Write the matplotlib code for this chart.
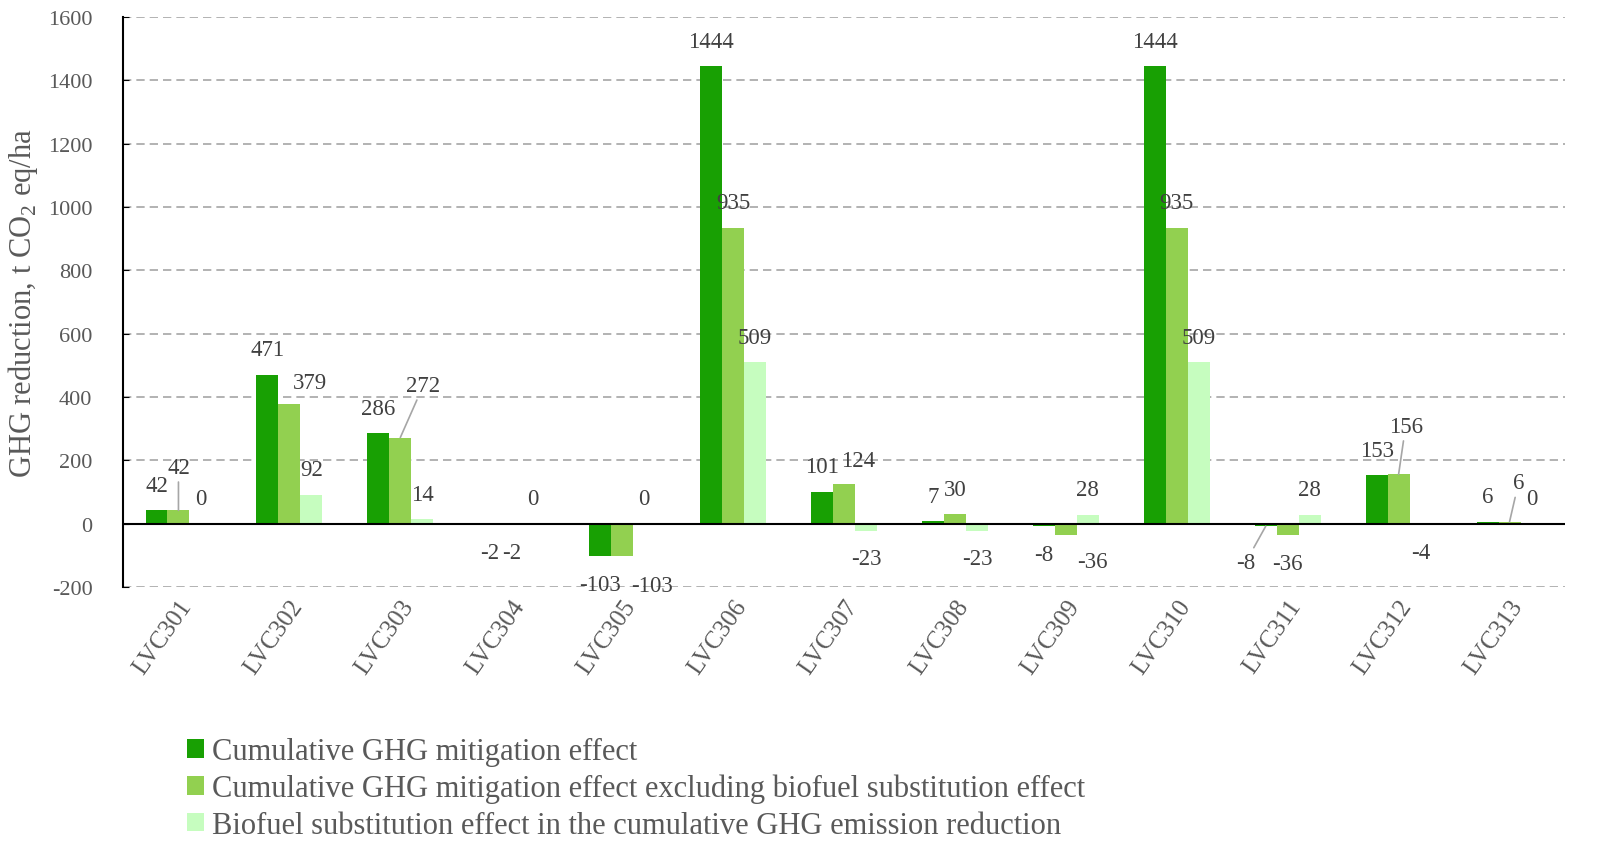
import numpy as np
import matplotlib
matplotlib.use('Agg')
import matplotlib.pyplot as plt
from matplotlib.transforms import ScaledTranslation

plt.rcParams['font.family'] = ['Liberation Serif', 'DejaVu Serif']
plt.rcParams['mathtext.fontset'] = 'custom'
plt.rcParams['mathtext.rm'] = 'Liberation Serif'
plt.rcParams['axes.unicode_minus'] = False

# ---- data ----
categories = ['LVC301', 'LVC302', 'LVC303', 'LVC304', 'LVC305', 'LVC306', 'LVC307',
              'LVC308', 'LVC309', 'LVC310', 'LVC311', 'LVC312', 'LVC313']
cumulative = [42, 471, 286, -2, -103, 1444, 101, 7, -8, 1444, -8, 153, 6]
cumulative_excl_biofuel = [42, 379, 272, -2, -103, 935, 124, 30, -36, 935, -36, 156, 6]
biofuel_substitution = [0, 92, 14, 0, 0, 509, -23, -23, 28, 509, 28, -4, 0]

series_names = ['Cumulative GHG mitigation effect',
                'Cumulative GHG mitigation effect excluding biofuel substitution effect',
                'Biofuel substitution effect in the cumulative GHG emission reduction']
colors = ['#18A003', '#92D050', '#C6FDBF']

# label nudges in screen pixels (dx, dy, leader line) for labels moved off the default spot
label_tweaks = {
    (0, 10): (-20, -36, True),
    (1, 0): (0, 43, True),
    (1, 1): (21, 21, False),
    (1, 2): (23, 52, True),
    (1, 4): (30, -29, False),
    (1, 6): (14, 24, False),
    (1, 8): (27, -26, False),
    (1, 11): (7, 48, True),
    (1, 12): (9, 39, True),
}

DPI = 100
fig = plt.figure(figsize=(16.19, 8.62), dpi=DPI)
ax = fig.add_axes([123 / 1619, 1 - 588 / 862, (1565 - 123) / 1619, (588 - 18) / 862])

x = np.arange(len(categories))
width = 0.198
all_series = [cumulative, cumulative_excl_biofuel, biofuel_substitution]

for s, (vals, name, col) in enumerate(zip(all_series, series_names, colors)):
    xs = x + (s - 1) * width
    ax.bar(xs, vals, width, color=col, label=name, zorder=3)
    for i, (xi, v) in enumerate(zip(xs, vals)):
        dx, dy, leader = label_tweaks.get((s, i), (0, 25 if v >= 0 else -28, False))
        kw = {}
        if leader:
            kw['arrowprops'] = dict(arrowstyle='-', color='#A6A6A6', lw=1.2,
                                    shrinkA=1, shrinkB=0)
        ax.annotate(str(v), xy=(xi, v), xytext=(dx, dy), textcoords='offset pixels',
                    ha='center', va='center', fontsize=16.5, color='#404040',
                    annotation_clip=False, zorder=5, **kw)

ax.set_xlim(-0.5, len(categories) - 0.5)
ax.set_ylim(-200, 1600)
ax.set_yticks(np.arange(-200, 1601, 200))
ax.yaxis.grid(True, color='#A6A6A6', linestyle=(0, (5, 3)), linewidth=1.2, zorder=0)
ax.axhline(0, color='black', lw=1.5, zorder=4)

for sp in ['top', 'right', 'bottom']:
    ax.spines[sp].set_visible(False)
ax.spines['left'].set_linewidth(1.5)

ax.set_xticks(x)
ax.set_xticklabels(categories, rotation=55, ha='right', va='top',
                   rotation_mode='anchor', fontsize=18, color='#595959')
shift = ScaledTranslation(-12 / DPI, 0, fig.dpi_scale_trans)
for lbl in ax.get_xticklabels():
    lbl.set_transform(lbl.get_transform() + shift)
ax.tick_params(axis='x', length=0, pad=6)
ax.tick_params(axis='y', direction='in', length=4, labelsize=16, labelcolor='#595959', pad=22)
ax.set_ylabel('GHG reduction, t CO$_2$ eq/ha', fontsize=22, color='#595959', labelpad=6)

fig.legend(loc='upper left', bbox_to_anchor=(175 / 1619, 1 - 726 / 862), frameon=False,
           fontsize=22, labelcolor='#595959', handlelength=0.55, handleheight=0.55,
           handletextpad=0.25, labelspacing=0.25, borderaxespad=0)

fig.savefig('out.png', dpi=DPI, facecolor='white')
